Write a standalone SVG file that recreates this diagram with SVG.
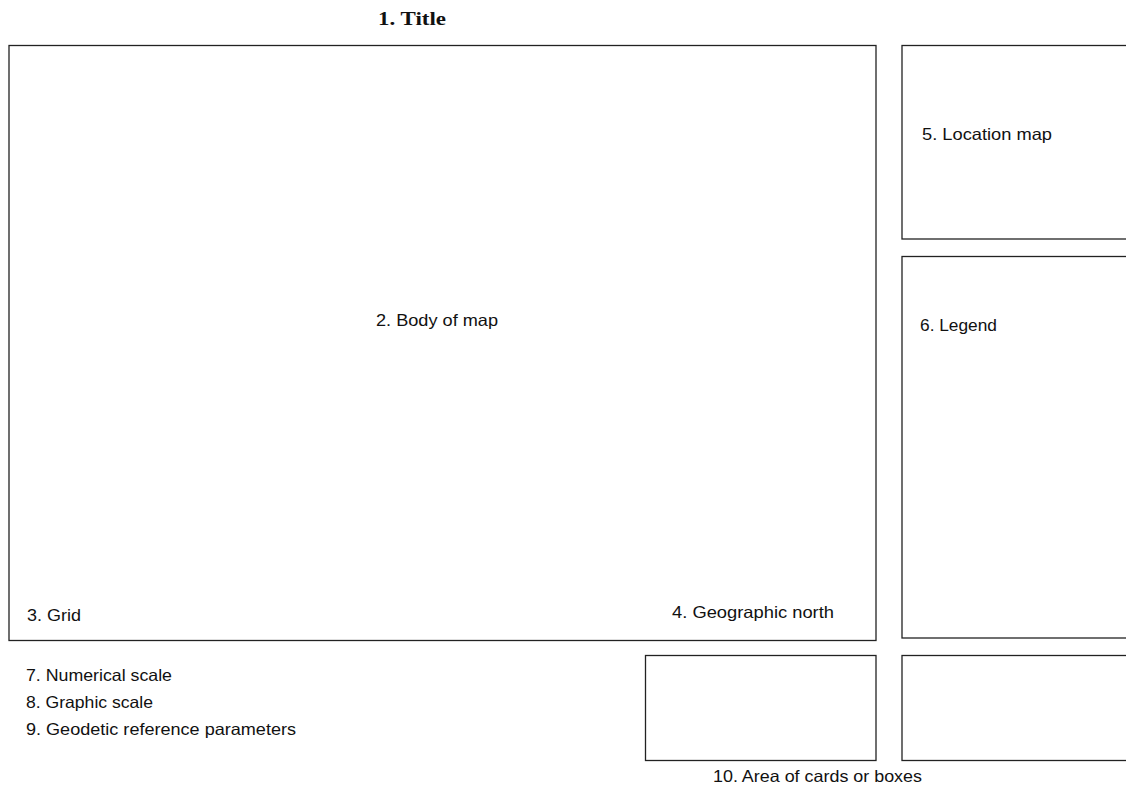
<svg xmlns="http://www.w3.org/2000/svg" width="1126" height="787" viewBox="0 0 1126 787">
<style>
.box{fill:#fff;stroke:#222;stroke-width:1.3}
.t{font-family:"Liberation Sans","Open Sans",Arial,sans-serif;font-size:16.5px;fill:#111}
.title{font-family:"Liberation Serif","DejaVu Serif",serif;font-size:19px;font-weight:bold;fill:#111}
</style>
<rect width="1126" height="787" fill="#fff"/>
<g id="title"><text class="title" x="378" y="25" textLength="68" lengthAdjust="spacingAndGlyphs">1. Title</text></g>
<g id="body">
<rect class="box" x="9" y="45.5" width="867" height="595"/>
<text class="t" x="376" y="326" textLength="122" lengthAdjust="spacingAndGlyphs">2. Body of map</text>
</g>
<g id="grid"><text class="t" x="27" y="621" textLength="54" lengthAdjust="spacingAndGlyphs">3. Grid</text></g>
<g id="north"><text class="t" x="672" y="618" textLength="162" lengthAdjust="spacingAndGlyphs">4. Geographic north</text></g>
<g id="location">
<rect class="box" x="902" y="45.5" width="240" height="193.5"/>
<text class="t" x="922" y="140" textLength="130" lengthAdjust="spacingAndGlyphs">5. Location map</text>
</g>
<g id="legend">
<rect class="box" x="902" y="256.5" width="240" height="381.5"/>
<text class="t" x="920" y="331" textLength="77" lengthAdjust="spacingAndGlyphs">6. Legend</text>
</g>
<g id="scales">
<text class="t" x="26" y="681" textLength="146" lengthAdjust="spacingAndGlyphs">7. Numerical scale</text>
<text class="t" x="26" y="708" textLength="127" lengthAdjust="spacingAndGlyphs">8. Graphic scale</text>
<text class="t" x="26" y="735" textLength="270" lengthAdjust="spacingAndGlyphs">9. Geodetic reference parameters</text>
</g>
<g id="cards">
<rect class="box" x="645.5" y="655.5" width="230.5" height="105"/>
<rect class="box" x="902" y="655.5" width="240" height="105"/>
<text class="t" x="713" y="782" textLength="209" lengthAdjust="spacingAndGlyphs">10. Area of cards or boxes</text>
</g>
<g id="connectors"></g>
</svg>
